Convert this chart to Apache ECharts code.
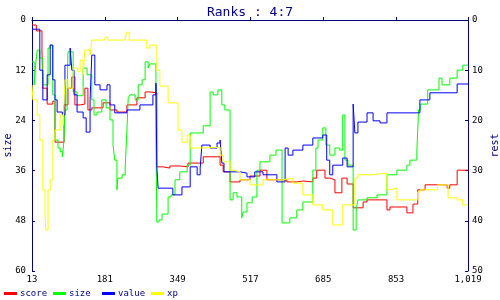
<!DOCTYPE html>
<html>
<head>
<meta charset="utf-8">
<script src="https://cdn.jsdelivr.net/npm/echarts@6/dist/echarts.min.js"></script>
<style>html,body{margin:0;padding:0;background:#fff}#c{width:500px;height:300px}</style>
</head>
<body>
<div id="c"></div>
<script>
var titleText = "Ranks : 4:7";
var seriesNames = ["score", "size", "value", "xp"];
var xTicks = [13, 181, 349, 517, 685, 853, 1019];
var leftTicks = [0, 12, 24, 36, 48, 60];
var rightTicks = [0, 10, 20, 30, 40, 50];

var score = [[13,1.2],[23,2.6],[36,7.2],[38,16.3],[48,20.1],[61,19.4],[66,29.2],[87,20.3],[96,16.3],[105,13.6],[112,20.3],[124,20.1],[135,16.3],[142,21.5],[151,21],[163,21],[177,19.8],[193,21.5],[209,22],[232,20.3],[255,18.6],[274,17.2],[285,17.4],[301,35.1],[315,35.4],[331,34.9],[354,35.1],[373,34.2],[408,32.7],[447,34.7],[454,36.3],[470,38.7],[493,38.2],[516,37.3],[539,35.9],[555,38.2],[601,38.7],[624,38.5],[638,38.7],[661,37.8],[670,35.9],[689,37.8],[700,38.2],[712,41.3],[728,37.8],[740,39.2],[754,44.9],[777,43.5],[786,43],[832,45.4],[839,44.7],[878,46.1],[892,44],[903,40.6],[920,39.4],[971,40.2],[977,39.4],[994,35.9],[1019,35.9]];

var size = [[13,10],[18,15.5],[22,10],[25,7.2],[31,9.1],[38,15.5],[50,6.7],[55,6],[61,17.9],[66,28.7],[73,30.6],[78,31.5],[83,32.7],[87,28.7],[89,21.5],[94,17.9],[96,7.6],[108,17.2],[117,18.1],[131,11.5],[140,13.1],[151,19.1],[156,22.7],[163,22],[174,19.1],[184,21],[193,23.9],[200,29.9],[204,33.5],[209,40.6],[211,37.8],[221,37],[228,35.4],[232,26.3],[235,18.6],[239,17.9],[251,19.1],[258,15.5],[267,14.3],[274,10],[281,11.5],[285,10.5],[299,28],[301,48.3],[306,47.8],[313,46.4],[327,42.3],[334,41.8],[343,38.2],[354,36.3],[371,34.7],[378,27],[408,25.3],[424,17.2],[431,17.9],[442,16.7],[451,20.3],[458,21.5],[470,43],[477,41.3],[486,42.3],[497,47.3],[500,45.9],[509,43.7],[521,42.3],[532,35.9],[539,33.9],[562,32.3],[576,31.1],[590,48.5],[608,47.3],[624,45.4],[638,43.5],[661,35.9],[668,30.6],[673,28.7],[684,25.8],[691,29.9],[700,32.3],[712,30.6],[723,31.1],[730,22.7],[735,33.5],[742,34.7],[754,50.2],[761,45.4],[765,43],[786,42.5],[809,41.8],[832,37],[855,35.9],[878,34.7],[885,33.5],[901,31.1],[905,21.5],[910,20.1],[926,16.7],[952,13.9],[959,15.5],[977,13.9],[994,12],[1007,10.8],[1019,10.8]];

var value = [[13,2.2],[31,12],[38,19.1],[48,13.1],[55,6],[61,14.3],[66,19.1],[71,22],[83,22.7],[89,10.8],[101,6.7],[105,12],[110,17.9],[117,22],[131,23.4],[138,26.8],[147,19.1],[151,8.4],[158,15.5],[170,16.7],[186,15.5],[193,20.3],[204,22.2],[232,21.5],[262,20.3],[292,17.9],[299,15.1],[301,35.1],[304,40.2],[315,40.2],[338,41.8],[359,39.9],[378,35.1],[394,37],[401,35.4],[405,29.9],[424,30.6],[440,29.4],[447,28.7],[451,34.2],[456,36.3],[493,36.6],[509,37.5],[527,36.3],[546,37],[578,38.7],[597,30.6],[604,32.3],[615,31.1],[638,29.9],[661,28.2],[684,27.5],[693,33.5],[700,37],[707,34.7],[730,33],[740,35.1],[754,20.1],[758,27],[765,24.4],[786,22.2],[800,24.1],[816,24.6],[832,22.2],[908,19.1],[931,17.4],[994,15.3],[1019,15.3]];

var xp = [[13,15.5],[15,19.1],[25,22.7],[31,28.7],[38,40.6],[43,46.6],[45,50.2],[50,40.6],[55,38.2],[61,28.7],[66,26.3],[78,22.7],[85,25.1],[89,14.3],[96,16.3],[108,11.5],[119,12.4],[124,9.6],[131,13.1],[135,7.2],[147,8.4],[151,4.8],[181,4.1],[188,4.8],[228,4.1],[232,2.9],[237,4.8],[278,6.7],[285,6],[301,12],[308,15.8],[327,19.8],[350,26.3],[359,29.2],[371,27.5],[378,30.6],[408,30.4],[447,32.3],[454,33.9],[470,35.9],[477,36.3],[493,38.2],[516,39.4],[546,38.2],[592,37.8],[615,39],[638,41.8],[661,44.2],[684,45.4],[707,49],[730,44.2],[758,37.8],[765,37],[797,36.6],[832,40.6],[837,40.2],[855,43],[903,41.1],[908,40.6],[949,39.4],[973,42.5],[994,43],[1007,44.2],[1019,44.2]];

var colors = ["#ff0000", "#00ff00", "#0000ff", "#ffff00"];
var dataSets = [score, size, value, xp];
var FONT = "DejaVu Sans Mono";
var NAVY = "#000080";

var chart = echarts.init(document.getElementById('c'), null, {renderer: 'canvas'});
chart.setOption({
  animation: false,
  backgroundColor: '#fff',
  title: {
    text: titleText, left: 'center', top: 1,
    textStyle: {fontFamily: FONT, fontSize: 13, fontWeight: 'normal', color: NAVY}
  },
  legend: seriesNames.map(function (n, i) {
    return {
      left: 4 + 49 * i, top: 289, padding: 0, itemWidth: 13, itemHeight: 3, icon: 'rect',
      data: [n], selectedMode: false,
      textStyle: {fontFamily: FONT, fontSize: 9, color: NAVY, padding: [0, 0, 0, -2]}
    };
  }),
  grid: {left: 32, right: 32, top: 20, bottom: 29, containLabel: false, outerBoundsMode: 'none'},
  xAxis: {
    type: 'value', min: 13, max: 1019,
    axisLine: {lineStyle: {color: NAVY, width: 1}},
    axisTick: {inside: true, length: 3, customValues: xTicks, lineStyle: {color: NAVY}},
    axisLabel: {customValues: xTicks, fontFamily: FONT, fontSize: 9, color: '#000', margin: 4},
    splitLine: {show: false}
  },
  yAxis: [{
    type: 'value', inverse: true, min: 0, max: 60, interval: 12,
    name: 'size', nameLocation: 'middle', nameGap: 19, nameMoveOverlap: false,
    nameTextStyle: {fontFamily: FONT, fontSize: 10, color: NAVY, verticalAlign: 'bottom'},
    axisLine: {show: true, lineStyle: {color: NAVY}},
    axisTick: {inside: true, length: 3, lineStyle: {color: NAVY}},
    axisLabel: {fontFamily: FONT, fontSize: 9, color: '#000', margin: 6, customValues: leftTicks},
    splitLine: {show: false}
  }, {
    type: 'value', inverse: true, min: 0, max: 50, interval: 10, position: 'right',
    name: 'rest', nameLocation: 'middle', nameGap: 22, nameMoveOverlap: false,
    nameTextStyle: {fontFamily: FONT, fontSize: 10, color: NAVY, verticalAlign: 'top'},
    axisLine: {show: true, lineStyle: {color: NAVY}},
    axisTick: {inside: true, length: 3, lineStyle: {color: NAVY}},
    axisLabel: {fontFamily: FONT, fontSize: 9, color: '#000', margin: 4, customValues: rightTicks},
    splitLine: {show: false}
  }],
  series: seriesNames.map(function (n, i) {
    return {
      name: n, type: 'line', step: 'end', data: dataSets[i], yAxisIndex: 0,
      showSymbol: false, symbol: 'none',
      lineStyle: {color: colors[i], width: 1}, itemStyle: {color: colors[i]},
      emphasis: {disabled: true}
    };
  })
});
</script>
</body>
</html>
